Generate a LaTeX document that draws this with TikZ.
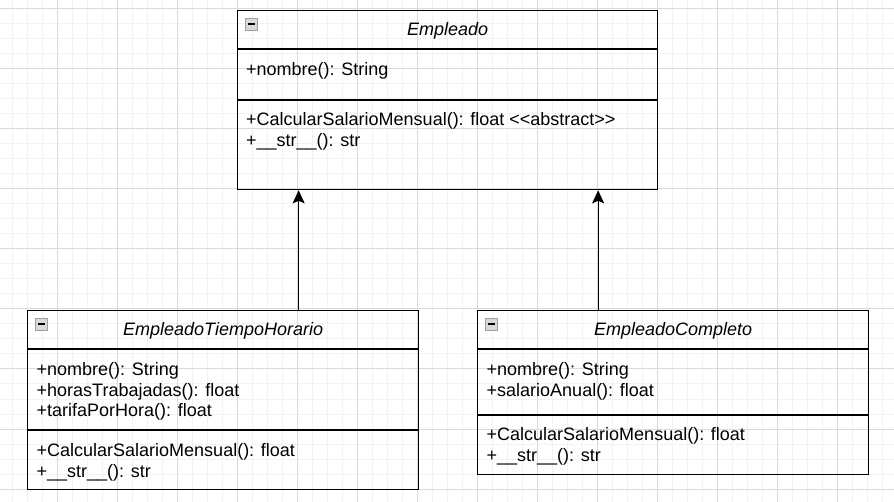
\documentclass[tikz,border=0pt]{standalone}
\usepackage{fontspec}
\setmainfont{Liberation Sans}
\usepackage{xcolor}
\usetikzlibrary{arrows.meta,positioning,calc}

\definecolor{minorgrid}{HTML}{F2F2F2}
\definecolor{majorgrid}{HTML}{DADADA}

\begin{document}
\begin{tikzpicture}[
    x=1pt, y=-1pt,
    classbox/.style={rectangle, draw, line width=1.3pt, anchor=north west, inner sep=0pt},
    sepline/.style={line width=1.1pt},
    title/.style={anchor=base, inner sep=0pt, font=\fontsize{18}{20}\selectfont\itshape},
    member/.style={anchor=base west, inner sep=0pt, font=\fontsize{18}{20}\selectfont},
    icon/.style={rectangle, draw=gray!75, fill=gray!30, minimum size=12pt, inner sep=0pt, anchor=north west},
    arrow/.style={-{Stealth[length=13pt, width=12pt, inset=2.5pt]}, line width=1.3pt}
]
    \useasboundingbox (0,0) rectangle (894,502);

    % Grid
    \foreach \x in {12.5,27.5,...,894} \draw[minorgrid, line width=1pt] (\x,0) -- (\x,502);
    \foreach \y in {9,24,...,502} \draw[minorgrid, line width=1pt] (0,\y) -- (894,\y);
    \foreach \x in {57.5,117.5,...,894} \draw[majorgrid, line width=1pt] (\x,0) -- (\x,502);
    \foreach \y in {9,69,...,502} \draw[majorgrid, line width=1pt] (0,\y) -- (894,\y);

    % Empleado
    \node[classbox, minimum width=420pt, minimum height=179pt] (empleado) at (237,10) {};
    \node[icon] (empleadoIcon) at ([xshift=8pt, yshift=-8pt]empleado.north west) {};
    \draw[line width=1.8pt] ([xshift=2.5pt]empleadoIcon.west) -- ([xshift=-2.5pt]empleadoIcon.east);
    \node[title] (empleadoTitle) at ([yshift=-26pt]empleado.north) {Empleado};
    \draw[sepline] ([yshift=-39pt]empleado.north west) -- ([yshift=-39pt]empleado.north east);
    \draw[sepline] ([yshift=-90pt]empleado.north west) -- ([yshift=-90pt]empleado.north east);
    \node[member] (empleadoA) at ([xshift=9pt, yshift=-66pt]empleado.north west) {+nombre(): String};
    \node[member] (empleadoM1) at ([xshift=9pt, yshift=-116pt]empleado.north west) {+CalcularSalarioMensual(): float {<}{<}abstract{>}{>}};
    \node[member] (empleadoM2) at ([yshift=-21pt]empleadoM1.base west) {+\_\_str\_\_(): str};

    % EmpleadoTiempoHorario
    \node[classbox, minimum width=391pt, minimum height=179pt] (horario) at (27,310) {};
    \node[icon] (horarioIcon) at ([xshift=8pt, yshift=-8pt]horario.north west) {};
    \draw[line width=1.8pt] ([xshift=2.5pt]horarioIcon.west) -- ([xshift=-2.5pt]horarioIcon.east);
    \node[title] (horarioTitle) at ([yshift=-26pt]horario.north) {EmpleadoTiempoHorario};
    \draw[sepline] ([yshift=-39pt]horario.north west) -- ([yshift=-39pt]horario.north east);
    \draw[sepline] ([yshift=-120pt]horario.north west) -- ([yshift=-120pt]horario.north east);
    \node[member] (horarioA1) at ([xshift=9.5pt, yshift=-66pt]horario.north west) {+nombre(): String};
    \node[member] (horarioA2) at ([yshift=-20pt]horarioA1.base west) {+horasTrabajadas(): float};
    \node[member] (horarioA3) at ([yshift=-20pt]horarioA2.base west) {+tarifaPorHora(): float};
    \node[member] (horarioM1) at ([xshift=9.5pt, yshift=-146pt]horario.north west) {+CalcularSalarioMensual(): float};
    \node[member] (horarioM2) at ([yshift=-21pt]horarioM1.base west) {+\_\_str\_\_(): str};

    % EmpleadoCompleto
    \node[classbox, minimum width=391pt, minimum height=164pt] (completo) at (477,310) {};
    \node[icon] (completoIcon) at ([xshift=8pt, yshift=-8pt]completo.north west) {};
    \draw[line width=1.8pt] ([xshift=2.5pt]completoIcon.west) -- ([xshift=-2.5pt]completoIcon.east);
    \node[title] (completoTitle) at ([yshift=-26pt]completo.north) {EmpleadoCompleto};
    \draw[sepline] ([yshift=-39pt]completo.north west) -- ([yshift=-39pt]completo.north east);
    \draw[sepline] ([yshift=-105pt]completo.north west) -- ([yshift=-105pt]completo.north east);
    \node[member] (completoA1) at ([xshift=9.5pt, yshift=-66pt]completo.north west) {+nombre(): String};
    \node[member] (completoA2) at ([yshift=-20pt]completoA1.base west) {+salarioAnual(): float};
    \node[member] (completoM1) at ([xshift=9.5pt, yshift=-130pt]completo.north west) {+CalcularSalarioMensual(): float};
    \node[member] (completoM2) at ([yshift=-21pt]completoM1.base west) {+\_\_str\_\_(): str};

    % Arrows
    \draw[arrow] ([xshift=75.5pt]horario.north) -- ([xshift=75.5pt]horario.north |- empleado.south);
    \draw[arrow] ([xshift=-75pt]completo.north) -- ([xshift=-75pt]completo.north |- empleado.south);
\end{tikzpicture}
\end{document}
